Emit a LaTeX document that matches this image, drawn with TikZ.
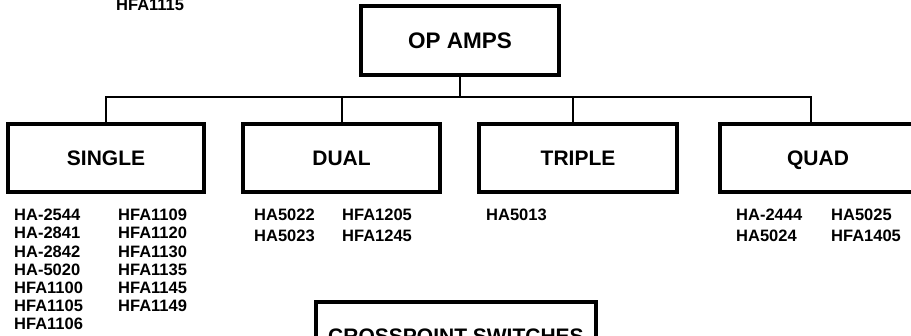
\documentclass[tikz,border=0pt]{standalone}
\usepackage{fontspec}
\setmainfont{Liberation Sans}
\begin{document}
\begin{tikzpicture}[x=1pt,y=-1pt,
  box/.style={draw, line width=4.5pt, line join=miter, rectangle, inner sep=0pt,
    minimum height=68pt, text height=15pt, text depth=0pt,
    font=\fontsize{21}{24}\selectfont\bfseries},
  conn/.style={draw, line width=2pt},
  part/.style={inner sep=0pt, anchor=base west, font=\fontsize{16.5}{18}\selectfont\bfseries}]
\path[use as bounding box, fill=white] (0,0) rectangle (911,336);

% boxes
\node[box, minimum width=198pt, minimum height=69pt, text height=16pt,
  font=\fontsize{22.5}{26}\selectfont\bfseries] (opamps) at (460,40.5) {OP AMPS};
\node[box, minimum width=196pt] (single) at (106,158) {SINGLE};
\node[box, minimum width=197pt] (dual) at (341.5,158) {DUAL};
\node[box, minimum width=198pt] (triple) at (578,158) {TRIPLE};
\node[box, minimum width=196pt] (quad) at (818,158) {QUAD};
\node[box, minimum width=280pt] (xpt) at (456,336) {CROSSPOINT SWITCHES};

% connectors
\coordinate (busY) at (0,97);
\coordinate (tripT) at ([xshift=-5pt]triple.north);
\coordinate (quadT) at ([xshift=-7pt]quad.north);
\draw[conn] (single.north) -- (single.north |- busY) -- (quadT |- busY) -- (quadT);
\draw[conn] (opamps.south) -- (opamps.south |- busY);
\draw[conn] (dual.north) -- (dual.north |- busY);
\draw[conn] (tripT) -- (tripT |- busY);

% stray label at top
\node[part] (top1) at (116,10.5) {HFA1115};

% single lists
\foreach \t [count=\i] in {HA-2544,HA-2841,HA-2842,HA-5020,HFA1100,HFA1105,HFA1106}
  \node[part] (sa\i) at (14,{220.7+18.2*(\i-1)}) {\t};
\foreach \t [count=\i] in {HFA1109,HFA1120,HFA1130,HFA1135,HFA1145,HFA1149}
  \node[part] (sb\i) at (118,{220.7+18.2*(\i-1)}) {\t};

% dual lists
\node[part] (da1) at (254,220.7) {HA5022};
\node[part] (da2) at (254,241.7) {HA5023};
\node[part] (db1) at (342,220.7) {HFA1205};
\node[part] (db2) at (342,241.7) {HFA1245};

% triple
\node[part] (ta1) at (486,221) {HA5013};

% quad
\node[part] (qa1) at (736,221) {HA-2444};
\node[part] (qa2) at (736,242) {HA5024};
\node[part] (qb1) at (831,221) {HA5025};
\node[part] (qb2) at (831,242) {HFA1405};
\end{tikzpicture}
\end{document}
